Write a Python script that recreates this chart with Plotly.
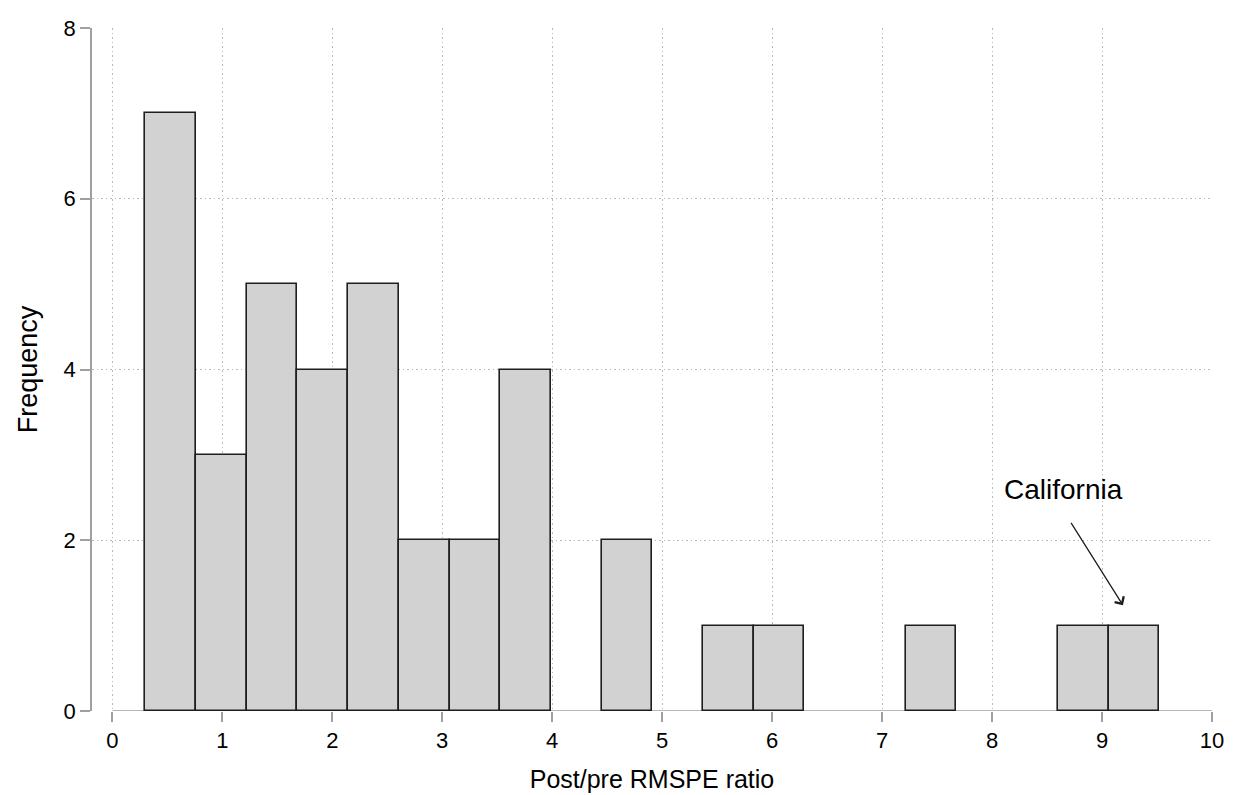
import plotly.graph_objects as go

# Histogram data (Post/pre RMSPE ratio)
bin_start = 0.30
bin_width = 0.461
counts = [7, 3, 5, 4, 5, 2, 2, 4, 0, 2, 0, 1, 1, 0, 0, 1, 0, 0, 1, 1]
x_ticks = [0, 1, 2, 3, 4, 5, 6, 7, 8, 9, 10]
y_ticks = [0, 2, 4, 6, 8]
annot_text = "California"
annot_xy = (8.65, 2.59)
arrow_tail = (8.71, 2.22)
arrow_tip = (9.19, 1.24)

centers = [bin_start + bin_width * (i + 0.5) for i in range(len(counts))]
xs = [c for c, n in zip(centers, counts) if n > 0]
ys = [n for n in counts if n > 0]

fig = go.Figure()
fig.add_trace(go.Bar(
    x=xs, y=ys, width=bin_width,
    marker=dict(color="#d2d2d2", line=dict(color="#1e1e1e", width=1.6)),
    showlegend=False,
))

font_family = "Liberation Sans, Arial, Helvetica, sans-serif"
grid_dash = "1.5px,3px"

fig.update_layout(
    width=1228, height=787,
    margin=dict(l=84, r=24, t=20, b=84),
    paper_bgcolor="white", plot_bgcolor="white",
    font=dict(family=font_family, color="black", size=22),
    bargap=0,
    xaxis=dict(
        range=[-0.185, 10.0], automargin=False,
        tickvals=x_ticks, ticks="outside", ticklen=10, tickcolor="#a0a0a0", tickwidth=1.5,
        showgrid=True, gridcolor="#b8b8b8", griddash=grid_dash, gridwidth=1,
        zeroline=False, showline=False,
        title=dict(text="Post/pre RMSPE ratio", font=dict(size=25), standoff=18),
        tickfont=dict(size=22),
    ),
    yaxis=dict(
        range=[0, 8], automargin=False,
        tickvals=y_ticks, ticks="outside", ticklen=10, tickcolor="#a0a0a0", tickwidth=1.5,
        showgrid=True, gridcolor="#b8b8b8", griddash=grid_dash, gridwidth=1,
        zeroline=False, showline=True, linecolor="#a0a0a0", linewidth=1.5,
        title=dict(text="Frequency", font=dict(size=27), standoff=18),
        tickfont=dict(size=22),
    ),
)

# x axis line spanning 0..10 (Stata style)
fig.add_shape(type="line", xref="x", yref="y", x0=0, x1=10, y0=0, y1=0,
              line=dict(color="#a0a0a0", width=1.5), layer="below")

fig.add_annotation(x=annot_xy[0], y=annot_xy[1], xref="x", yref="y",
                   text=annot_text, showarrow=False,
                   font=dict(size=28, color="black"))
fig.add_annotation(x=arrow_tip[0], y=arrow_tip[1], ax=arrow_tail[0], ay=arrow_tail[1],
                   xref="x", yref="y", axref="x", ayref="y",
                   text="", showarrow=True, arrowhead=4, arrowsize=1.6,
                   arrowwidth=1.3, arrowcolor="#1e1e1e")

fig.write_html("out.html")
